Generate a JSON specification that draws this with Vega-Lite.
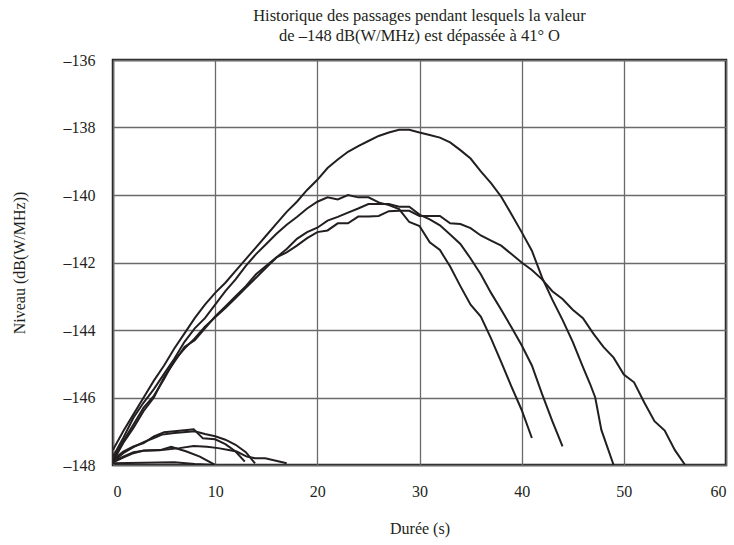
{
  "$schema": "https://vega.github.io/schema/vega-lite/v6.json",
  "width": 613,
  "height": 405,
  "autosize": "none",
  "padding": {"left": 113, "top": 60, "right": 8, "bottom": 80},
  "background": "white",
  "title": {
    "text": ["Historique des passages pendant lesquels la valeur", "de –148 dB(W/MHz) est dépassée à 41° O"],
    "font": "Liberation Serif",
    "fontSize": 16.5,
    "fontWeight": "normal",
    "color": "#231f20",
    "lineHeight": 20,
    "anchor": "middle",
    "offset": 8
  },
  "config": {
    "view": {"stroke": "#231f20", "strokeWidth": 2.5},
    "axis": {
      "labelFont": "Liberation Serif",
      "labelFontSize": 16,
      "labelColor": "#231f20",
      "titleFont": "Liberation Serif",
      "titleFontSize": 16,
      "titleFontWeight": "normal",
      "titleColor": "#231f20",
      "grid": true,
      "gridColor": "#6a6a6a",
      "gridWidth": 1.3,
      "gridOpacity": 1,
      "ticks": false,
      "domain": false
    }
  },
  "data": {
    "values": [
      {"r": "A", "x": 0, "y": -147.55}, {"r": "A", "x": 1, "y": -147.0}, {"r": "A", "x": 2, "y": -146.5}, {"r": "A", "x": 3, "y": -146.0}, {"r": "A", "x": 4, "y": -145.5}, {"r": "A", "x": 5, "y": -145.05}, {"r": "A", "x": 6, "y": -144.55}, {"r": "A", "x": 7, "y": -144.1}, {"r": "A", "x": 8, "y": -143.65}, {"r": "A", "x": 9, "y": -143.25}, {"r": "A", "x": 10, "y": -142.9}, {"r": "A", "x": 11, "y": -142.6}, {"r": "A", "x": 12, "y": -142.25}, {"r": "A", "x": 13, "y": -141.9}, {"r": "A", "x": 14, "y": -141.55}, {"r": "A", "x": 15, "y": -141.2}, {"r": "A", "x": 16, "y": -140.85}, {"r": "A", "x": 17, "y": -140.5}, {"r": "A", "x": 18, "y": -140.2}, {"r": "A", "x": 19, "y": -139.85}, {"r": "A", "x": 20, "y": -139.55}, {"r": "A", "x": 21, "y": -139.2}, {"r": "A", "x": 22, "y": -138.95}, {"r": "A", "x": 23, "y": -138.72}, {"r": "A", "x": 24, "y": -138.55}, {"r": "A", "x": 25, "y": -138.4}, {"r": "A", "x": 26, "y": -138.25}, {"r": "A", "x": 27, "y": -138.15}, {"r": "A", "x": 28, "y": -138.07}, {"r": "A", "x": 29, "y": -138.07}, {"r": "A", "x": 30, "y": -138.15}, {"r": "A", "x": 31, "y": -138.22}, {"r": "A", "x": 32, "y": -138.3}, {"r": "A", "x": 33, "y": -138.44}, {"r": "A", "x": 34, "y": -138.67}, {"r": "A", "x": 35, "y": -138.92}, {"r": "A", "x": 36, "y": -139.3}, {"r": "A", "x": 37, "y": -139.65}, {"r": "A", "x": 38, "y": -140.05}, {"r": "A", "x": 39, "y": -140.57}, {"r": "A", "x": 40, "y": -141.1}, {"r": "A", "x": 41, "y": -141.65}, {"r": "A", "x": 42, "y": -142.45}, {"r": "A", "x": 43, "y": -143.1}, {"r": "A", "x": 44, "y": -143.7}, {"r": "A", "x": 45, "y": -144.35}, {"r": "A", "x": 46, "y": -145.1}, {"r": "A", "x": 46.7, "y": -145.6}, {"r": "A", "x": 47.2, "y": -146.0}, {"r": "A", "x": 47.8, "y": -146.96}, {"r": "A", "x": 49, "y": -148.0},
      {"r": "B", "x": 0, "y": -147.75}, {"r": "B", "x": 1, "y": -147.2}, {"r": "B", "x": 2, "y": -146.6}, {"r": "B", "x": 3, "y": -146.15}, {"r": "B", "x": 4, "y": -145.75}, {"r": "B", "x": 5, "y": -145.3}, {"r": "B", "x": 6, "y": -144.85}, {"r": "B", "x": 7, "y": -144.35}, {"r": "B", "x": 8, "y": -143.95}, {"r": "B", "x": 9, "y": -143.65}, {"r": "B", "x": 10, "y": -143.25}, {"r": "B", "x": 11, "y": -142.85}, {"r": "B", "x": 12, "y": -142.5}, {"r": "B", "x": 13, "y": -142.1}, {"r": "B", "x": 14, "y": -141.75}, {"r": "B", "x": 15, "y": -141.45}, {"r": "B", "x": 16, "y": -141.15}, {"r": "B", "x": 17, "y": -140.88}, {"r": "B", "x": 18, "y": -140.65}, {"r": "B", "x": 19, "y": -140.4}, {"r": "B", "x": 20, "y": -140.2}, {"r": "B", "x": 21, "y": -140.07}, {"r": "B", "x": 22, "y": -140.13}, {"r": "B", "x": 23, "y": -140.0}, {"r": "B", "x": 24, "y": -140.07}, {"r": "B", "x": 25, "y": -140.07}, {"r": "B", "x": 26, "y": -140.22}, {"r": "B", "x": 27, "y": -140.3}, {"r": "B", "x": 28, "y": -140.42}, {"r": "B", "x": 29, "y": -140.8}, {"r": "B", "x": 30, "y": -140.92}, {"r": "B", "x": 31, "y": -141.4}, {"r": "B", "x": 32, "y": -141.63}, {"r": "B", "x": 33, "y": -142.12}, {"r": "B", "x": 34, "y": -142.7}, {"r": "B", "x": 35, "y": -143.25}, {"r": "B", "x": 36, "y": -143.6}, {"r": "B", "x": 37, "y": -144.25}, {"r": "B", "x": 38, "y": -144.95}, {"r": "B", "x": 39, "y": -145.68}, {"r": "B", "x": 40, "y": -146.37}, {"r": "B", "x": 41, "y": -147.2},
      {"r": "C", "x": 0, "y": -147.85}, {"r": "C", "x": 1, "y": -147.3}, {"r": "C", "x": 2, "y": -146.8}, {"r": "C", "x": 3, "y": -146.3}, {"r": "C", "x": 4, "y": -145.95}, {"r": "C", "x": 5, "y": -145.45}, {"r": "C", "x": 6, "y": -144.9}, {"r": "C", "x": 7, "y": -144.55}, {"r": "C", "x": 8, "y": -144.25}, {"r": "C", "x": 9, "y": -143.9}, {"r": "C", "x": 10, "y": -143.62}, {"r": "C", "x": 11, "y": -143.35}, {"r": "C", "x": 12, "y": -143.05}, {"r": "C", "x": 13, "y": -142.75}, {"r": "C", "x": 14, "y": -142.45}, {"r": "C", "x": 15, "y": -142.15}, {"r": "C", "x": 16, "y": -141.85}, {"r": "C", "x": 17, "y": -141.6}, {"r": "C", "x": 18, "y": -141.3}, {"r": "C", "x": 19, "y": -141.1}, {"r": "C", "x": 20, "y": -140.97}, {"r": "C", "x": 21, "y": -140.76}, {"r": "C", "x": 22, "y": -140.65}, {"r": "C", "x": 23, "y": -140.52}, {"r": "C", "x": 24, "y": -140.4}, {"r": "C", "x": 25, "y": -140.27}, {"r": "C", "x": 26, "y": -140.27}, {"r": "C", "x": 27, "y": -140.27}, {"r": "C", "x": 28, "y": -140.35}, {"r": "C", "x": 29, "y": -140.35}, {"r": "C", "x": 30, "y": -140.58}, {"r": "C", "x": 31, "y": -140.72}, {"r": "C", "x": 32, "y": -140.9}, {"r": "C", "x": 33, "y": -141.17}, {"r": "C", "x": 34, "y": -141.45}, {"r": "C", "x": 35, "y": -141.88}, {"r": "C", "x": 36, "y": -142.35}, {"r": "C", "x": 37, "y": -142.9}, {"r": "C", "x": 38, "y": -143.4}, {"r": "C", "x": 39, "y": -143.92}, {"r": "C", "x": 40, "y": -144.45}, {"r": "C", "x": 41, "y": -145.05}, {"r": "C", "x": 42, "y": -145.9}, {"r": "C", "x": 43, "y": -146.7}, {"r": "C", "x": 44, "y": -147.45},
      {"r": "D", "x": 0, "y": -147.9}, {"r": "D", "x": 1, "y": -147.35}, {"r": "D", "x": 2, "y": -146.9}, {"r": "D", "x": 3, "y": -146.4}, {"r": "D", "x": 4, "y": -146.0}, {"r": "D", "x": 5, "y": -145.4}, {"r": "D", "x": 6, "y": -144.95}, {"r": "D", "x": 7, "y": -144.5}, {"r": "D", "x": 8, "y": -144.3}, {"r": "D", "x": 9, "y": -143.95}, {"r": "D", "x": 10, "y": -143.6}, {"r": "D", "x": 11, "y": -143.3}, {"r": "D", "x": 12, "y": -143.0}, {"r": "D", "x": 13, "y": -142.7}, {"r": "D", "x": 14, "y": -142.35}, {"r": "D", "x": 15, "y": -142.1}, {"r": "D", "x": 16, "y": -141.85}, {"r": "D", "x": 17, "y": -141.7}, {"r": "D", "x": 18, "y": -141.5}, {"r": "D", "x": 19, "y": -141.28}, {"r": "D", "x": 20, "y": -141.1}, {"r": "D", "x": 21, "y": -141.05}, {"r": "D", "x": 22, "y": -140.84}, {"r": "D", "x": 23, "y": -140.84}, {"r": "D", "x": 24, "y": -140.64}, {"r": "D", "x": 25, "y": -140.64}, {"r": "D", "x": 26, "y": -140.62}, {"r": "D", "x": 27, "y": -140.48}, {"r": "D", "x": 28, "y": -140.47}, {"r": "D", "x": 29, "y": -140.47}, {"r": "D", "x": 30, "y": -140.62}, {"r": "D", "x": 31, "y": -140.62}, {"r": "D", "x": 32, "y": -140.62}, {"r": "D", "x": 33, "y": -140.84}, {"r": "D", "x": 34, "y": -140.86}, {"r": "D", "x": 35, "y": -140.98}, {"r": "D", "x": 36, "y": -141.2}, {"r": "D", "x": 37, "y": -141.35}, {"r": "D", "x": 38, "y": -141.5}, {"r": "D", "x": 39, "y": -141.75}, {"r": "D", "x": 40, "y": -142.0}, {"r": "D", "x": 41, "y": -142.22}, {"r": "D", "x": 42, "y": -142.5}, {"r": "D", "x": 43, "y": -142.85}, {"r": "D", "x": 44, "y": -143.08}, {"r": "D", "x": 45, "y": -143.4}, {"r": "D", "x": 46, "y": -143.65}, {"r": "D", "x": 47, "y": -144.1}, {"r": "D", "x": 48, "y": -144.5}, {"r": "D", "x": 49, "y": -144.82}, {"r": "D", "x": 50, "y": -145.32}, {"r": "D", "x": 51, "y": -145.55}, {"r": "D", "x": 52, "y": -146.15}, {"r": "D", "x": 53, "y": -146.7}, {"r": "D", "x": 54, "y": -146.98}, {"r": "D", "x": 55, "y": -147.56}, {"r": "D", "x": 56, "y": -148.0},
      {"r": "E1", "x": 0, "y": -147.85}, {"r": "E1", "x": 1, "y": -147.6}, {"r": "E1", "x": 2, "y": -147.45}, {"r": "E1", "x": 3, "y": -147.35}, {"r": "E1", "x": 4, "y": -147.15}, {"r": "E1", "x": 5, "y": -147.03}, {"r": "E1", "x": 6, "y": -147.0}, {"r": "E1", "x": 7, "y": -146.97}, {"r": "E1", "x": 7.9, "y": -146.94}, {"r": "E1", "x": 8.8, "y": -147.21}, {"r": "E1", "x": 10, "y": -147.24}, {"r": "E1", "x": 11, "y": -147.38}, {"r": "E1", "x": 12, "y": -147.6}, {"r": "E1", "x": 12.9, "y": -147.9},
      {"r": "E2", "x": 0, "y": -147.9}, {"r": "E2", "x": 1, "y": -147.65}, {"r": "E2", "x": 2, "y": -147.47}, {"r": "E2", "x": 3, "y": -147.32}, {"r": "E2", "x": 4, "y": -147.2}, {"r": "E2", "x": 4.8, "y": -147.1}, {"r": "E2", "x": 6, "y": -147.05}, {"r": "E2", "x": 8, "y": -147.0}, {"r": "E2", "x": 9, "y": -147.08}, {"r": "E2", "x": 10, "y": -147.15}, {"r": "E2", "x": 11, "y": -147.25}, {"r": "E2", "x": 12, "y": -147.4}, {"r": "E2", "x": 13, "y": -147.62}, {"r": "E2", "x": 13.9, "y": -147.95},
      {"r": "F1", "x": 0, "y": -147.9}, {"r": "F1", "x": 1, "y": -147.75}, {"r": "F1", "x": 2, "y": -147.62}, {"r": "F1", "x": 3, "y": -147.58}, {"r": "F1", "x": 4.6, "y": -147.56}, {"r": "F1", "x": 5.7, "y": -147.46}, {"r": "F1", "x": 7.2, "y": -147.6}, {"r": "F1", "x": 8.5, "y": -147.75}, {"r": "F1", "x": 10, "y": -148.0},
      {"r": "F2", "x": 0, "y": -147.92}, {"r": "F2", "x": 1, "y": -147.78}, {"r": "F2", "x": 2, "y": -147.65}, {"r": "F2", "x": 3, "y": -147.57}, {"r": "F2", "x": 5, "y": -147.55}, {"r": "F2", "x": 6.5, "y": -147.5}, {"r": "F2", "x": 7.9, "y": -147.44}, {"r": "F2", "x": 9.2, "y": -147.46}, {"r": "F2", "x": 10.3, "y": -147.5}, {"r": "F2", "x": 11.45, "y": -147.56}, {"r": "F2", "x": 12.1, "y": -147.6}, {"r": "F2", "x": 13.1, "y": -147.75}, {"r": "F2", "x": 13.9, "y": -147.8}, {"r": "F2", "x": 14.9, "y": -147.8}, {"r": "F2", "x": 17, "y": -147.95},
      {"r": "G", "x": 0, "y": -147.95}, {"r": "G", "x": 3, "y": -147.93}, {"r": "G", "x": 6, "y": -147.92}, {"r": "G", "x": 8, "y": -147.97}, {"r": "G", "x": 10, "y": -148.0}
    ]
  },
  "mark": {"type": "line", "color": "#231f20", "strokeWidth": 2, "clip": true},
  "encoding": {
    "x": {
      "field": "x",
      "type": "quantitative",
      "scale": {"domain": [0, 60], "nice": false},
      "axis": {"values": [0, 10, 20, 30, 40, 50, 60], "title": "Durée (s)", "labelPadding": 18, "titlePadding": 21}
    },
    "y": {
      "field": "y",
      "type": "quantitative",
      "scale": {"domain": [-148, -136], "nice": false, "zero": false},
      "axis": {
        "values": [-148, -146, -144, -142, -140, -138, -136],
        "title": "Niveau (dB(W/MHz))",
        "labelPadding": 18,
        "titlePadding": 36,
        "labelExpr": "datum.value < 0 ? '–' + format(-datum.value, 'd') : format(datum.value, 'd')"
      }
    },
    "detail": {"field": "r"},
    "order": {"field": "x", "type": "quantitative"}
  }
}
